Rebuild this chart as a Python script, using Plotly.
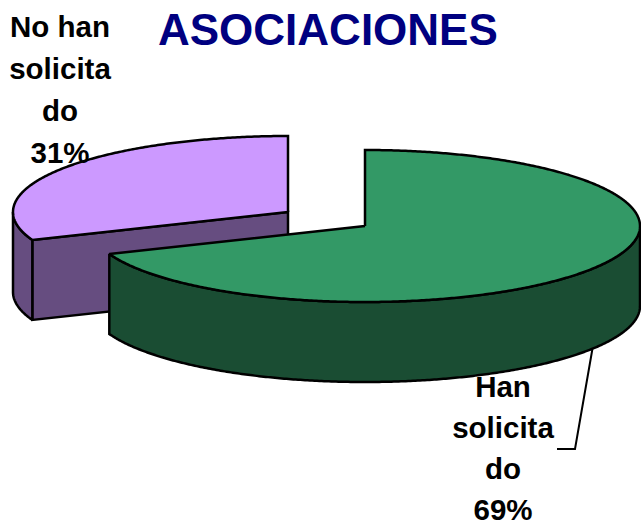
import numpy as np
import plotly.graph_objects as go

# Data
categories = ["Han solicitado", "No han solicitado"]
shares = [69, 31]
label_lines = [["Han", "solicita", "do", "69%"], ["No han", "solicita", "do", "31%"]]
chart_title = "ASOCIACIONES"

# Colours
top_colors = ["#339966", "#CC99FF"]
wall_colors = ["#1A4D33", "#664D80"]

# Pie geometry in page pixels (the fake 3D look)
centers = [(365, 226), (288, 212)]
rx, ry, depth = 275, 76, 80
label_pos = [(503, 390), (60, 30)]
line_gaps = [41, 42]  # the lower label has to stay inside the page

W, H = 641, 526


def rim(cx, cy, a0, a1, drop=0):
    # angle in degrees, clockwise from 12 o'clock
    t = np.radians(np.linspace(a0, a1, max(int(abs(a1 - a0)) * 2, 2)))
    return cx + rx * np.sin(t), cy - ry * np.cos(t) + drop


def poly(fig, x, y, color):
    fig.add_trace(go.Scatter(
        x=list(x) + [x[0]], y=list(y) + [y[0]],
        mode="lines", fill="toself", fillcolor=color,
        line=dict(color="black", width=2.5, simplify=False),
        showlegend=False, hoverinfo="skip",
    ))


split = shares[0] / sum(shares) * 360
fig = go.Figure()

# No han solicitado is at the back, so it goes first
cx, cy = centers[1]
ex, ey = rim(cx, cy, split, split)
poly(fig, [ex[0], cx, cx, ex[0]], [ey[0], cy, cy + depth, ey[0] + depth], wall_colors[1])
wx, wy = rim(cx, cy, split, 270)
poly(fig, np.r_[wx, wx[::-1]], np.r_[wy, wy[::-1] + depth], wall_colors[1])
tx, ty = rim(cx, cy, split, 360)
poly(fig, np.r_[cx, tx], np.r_[cy, ty], top_colors[1])

# Han solicitado, pulled out to the front
cx, cy = centers[0]
wx, wy = rim(cx, cy, 90, split)
poly(fig, np.r_[wx, wx[::-1]], np.r_[wy, wy[::-1] + depth], wall_colors[0])
tx, ty = rim(cx, cy, 0, split)
poly(fig, np.r_[cx, tx], np.r_[cy, ty], top_colors[0])

# Leader line from the middle of the slice down to its label
mx, my = rim(cx, cy, split / 2, split / 2, depth)
fig.add_trace(go.Scatter(
    x=[mx[0], 575, 557], y=[my[0], 449, 449], mode="lines",
    line=dict(color="black", width=2), showlegend=False, hoverinfo="skip",
))

# Labels, one point per line because the spacing is wide
for lines, (lx, ly), gap in zip(label_lines, label_pos, line_gaps):
    fig.add_trace(go.Scatter(
        x=[lx] * len(lines), y=[ly + i * gap for i in range(len(lines))],
        mode="text", text=[f"<b>{t}</b>" for t in lines], textposition="middle center",
        textfont=dict(family="Liberation Sans", size=29.5, color="black"),
        showlegend=False, hoverinfo="skip",
    ))

fig.add_annotation(
    x=328, y=29, text=f"<b>{chart_title}</b>", showarrow=False,
    font=dict(family="Liberation Sans", size=44, color="#000080"),
)

fig.update_xaxes(range=[0, W], visible=False, fixedrange=True)
fig.update_yaxes(range=[H, 0], visible=False, fixedrange=True)
fig.update_layout(
    width=W, height=H, margin=dict(l=0, r=0, t=0, b=0),
    paper_bgcolor="white", plot_bgcolor="white",
)

# body margin would push the chart 8px off
fig.write_html(
    "out.html",
    config={"displayModeBar": False},
    post_script="document.body.style.margin='0';document.body.style.overflow='hidden';",
)
